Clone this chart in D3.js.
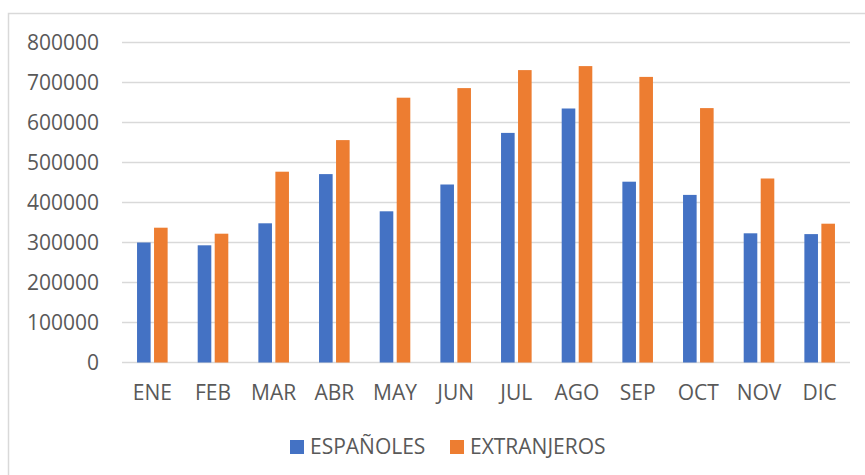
<!DOCTYPE html>
<html>
<head>
<meta charset="utf-8">
<script src="https://cdn.jsdelivr.net/npm/d3@7"></script>
<style>
  body { margin: 0; background: #fff; }
  text { font-family: "Open Sans", sans-serif; fill: #595959; }
</style>
</head>
<body>
<div id="chart"></div>
<script>
const months = ['ENE', 'FEB', 'MAR', 'ABR', 'MAY', 'JUN', 'JUL', 'AGO', 'SEP', 'OCT', 'NOV', 'DIC'];
const espanoles = [300000, 293000, 348000, 471000, 378000, 445000, 574000, 635000, 452000, 419000, 323000, 321000];
const extranjeros = [337000, 322000, 477000, 556000, 662000, 686000, 731000, 741000, 714000, 636000, 460000, 347000];
const seriesNames = ['ESPAÑOLES', 'EXTRANJEROS'];
const yTicks = [0, 100000, 200000, 300000, 400000, 500000, 600000, 700000, 800000];

const colors = ['#4472C4', '#ED7D31'];
const W = 865, H = 475;
const margin = { top: 42.5, right: 15, bottom: 113, left: 122 };
const fontSize = '21px';

const svg = d3.select('#chart').append('svg')
    .attr('width', W).attr('height', H);

// chart frame (only left/top visible in the picture)
svg.append('rect')
    .attr('x', 8.5).attr('y', 13.5)
    .attr('width', W + 10).attr('height', H + 10)
    .attr('fill', 'none').attr('stroke', '#d9d9d9').attr('stroke-width', 1.5);

const x = d3.scaleBand().domain(months).range([margin.left, W - margin.right]);
const y = d3.scaleLinear().domain([0, 800000]).range([H - margin.bottom + 0.5, margin.top]);

// gridlines
svg.append('g').selectAll('line').data(yTicks).enter().append('line')
    .attr('x1', margin.left).attr('x2', W - margin.right)
    .attr('y1', d => y(d)).attr('y2', d => y(d))
    .attr('stroke', '#d9d9d9').attr('stroke-width', 1.5);

// y labels
svg.append('g').selectAll('text').data(yTicks).enter().append('text')
    .attr('x', 99).attr('y', d => y(d))
    .attr('dy', '0.35em').attr('text-anchor', 'end')
    .style('font-size', fontSize)
    .text(d => d);

// bars
const barW = 13.6, gap = 3.4;
const data = [espanoles, extranjeros];
data.forEach((vals, si) => {
    svg.append('g').selectAll('rect').data(vals).enter().append('rect')
        .attr('x', (d, i) => x(months[i]) + x.bandwidth() / 2 - barW - gap / 2 + si * (barW + gap))
        .attr('y', d => y(d))
        .attr('width', barW)
        .attr('height', d => y(0) - y(d))
        .attr('fill', colors[si]);
});

// x labels
svg.append('g').selectAll('text').data(months).enter().append('text')
    .attr('x', d => x(d) + x.bandwidth() / 2)
    .attr('y', 393).attr('dy', '0.35em')
    .attr('text-anchor', 'middle')
    .style('font-size', fontSize)
    .text(d => d);

// legend
const legendX = [290, 450];
seriesNames.forEach((name, i) => {
    const g = svg.append('g').attr('transform', `translate(${legendX[i]},440)`);
    g.append('rect').attr('width', 14).attr('height', 14).attr('fill', colors[i]);
    g.append('text').attr('x', 20).attr('y', 7).attr('dy', '0.35em')
        .style('font-size', fontSize).text(name);
});
</script>
</body>
</html>
